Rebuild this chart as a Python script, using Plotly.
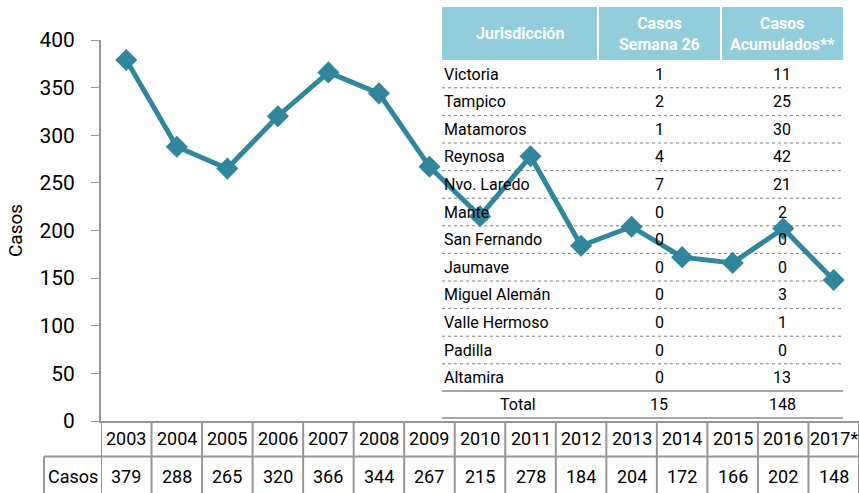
import plotly.graph_objects as go

# ---------------- data ----------------
years = ["2003", "2004", "2005", "2006", "2007", "2008", "2009", "2010",
         "2011", "2012", "2013", "2014", "2015", "2016", "2017*"]
cases = [379, 288, 265, 320, 366, 344, 267, 215, 278, 184, 204, 172, 166, 202, 148]

jurisdictions = ["Victoria", "Tampico", "Matamoros", "Reynosa", "Nvo. Laredo", "Mante",
                 "San Fernando", "Jaumave", "Miguel Alemán", "Valle Hermoso", "Padilla",
                 "Altamira"]
week26 = [1, 2, 1, 4, 7, 0, 0, 0, 0, 0, 0, 0]
accumulated = [11, 25, 30, 42, 21, 2, 0, 0, 3, 1, 0, 13]
header = ["Jurisdicción", "Casos<br>Semana 26", "Casos<br>Acumulados**"]
y_ticks = [0, 50, 100, 150, 200, 250, 300, 350, 400]

# ---------------- layout helpers ----------------
W, H = 859, 493
L, T, PB = 101, 40, 421          # plot left, top, bottom (px)
FONT = "Roboto, sans-serif"
LINE_C = "#31859C"
HEAD_C = "#92CDDC"
GRID_C = "#969696"


def px(x):
    return (x - L) / (W - L)


def py(y):
    return (PB - y) / (PB - T)


fig = go.Figure()
fig.add_trace(go.Scatter(
    x=years, y=cases, mode="lines+markers",
    line=dict(color=LINE_C, width=5),
    marker=dict(symbol="diamond", size=17, color=LINE_C),
    cliponaxis=False, showlegend=False, hoverinfo="x+y"))

shapes = []
annotations = []
TXT = dict(family=FONT, size=16, color="black")

# ---- overlay table: header ----
head_cols = [(442, 597), (599, 720), (722, 843)]
for (x0, x1), txt in zip(head_cols, header):
    shapes.append(dict(type="rect", xref="paper", yref="paper",
                       x0=px(x0), x1=px(x1), y0=py(60), y1=py(7),
                       fillcolor=HEAD_C, line=dict(width=0), layer="below"))
    annotations.append(dict(xref="paper", yref="paper", x=px((x0 + x1) / 2), y=py(33.5),
                            text="<b>" + txt + "</b>", showarrow=False,
                            font=dict(family=FONT, size=16, color="white"),
                            xanchor="center", yanchor="middle"))

# ---- overlay table: rows ----
ROW0, PITCH = 74, 27.6
for i, (name, w, a) in enumerate(zip(jurisdictions, week26, accumulated)):
    yc = ROW0 + PITCH * i
    annotations.append(dict(xref="paper", yref="paper", x=px(442), y=py(yc), text=name,
                            showarrow=False, xanchor="left", yanchor="middle", font=TXT))
    annotations.append(dict(xref="paper", yref="paper", x=px(659), y=py(yc), text=str(w),
                            showarrow=False, xanchor="center", yanchor="middle", font=TXT))
    annotations.append(dict(xref="paper", yref="paper", x=px(782), y=py(yc), text=str(a),
                            showarrow=False, xanchor="center", yanchor="middle", font=TXT))
    if i < len(jurisdictions) - 1:
        ys = yc + PITCH / 2
        shapes.append(dict(type="line", xref="paper", yref="paper",
                           x0=px(442), x1=px(843), y0=py(ys), y1=py(ys),
                           line=dict(color="#7F7F7F", width=1, dash="dot"), layer="below"))

# total row
yt = ROW0 + PITCH * len(jurisdictions) - 1
for xx, txt in [(518, "Total"), (659, str(sum(week26))), (782, str(sum(accumulated)))]:
    annotations.append(dict(xref="paper", yref="paper", x=px(xx), y=py(yt), text=txt,
                            showarrow=False, xanchor="center", yanchor="middle", font=TXT))
for ys in (391, 418):
    shapes.append(dict(type="line", xref="paper", yref="paper",
                       x0=px(442), x1=px(843), y0=py(ys), y1=py(ys),
                       line=dict(color="#A6A6A6", width=2), layer="below"))

# ---- bottom data table ----
for i in range(len(years) + 1):
    shapes.append(dict(type="line", xref="x", yref="paper", x0=i - 0.5, x1=i - 0.5,
                       y0=py(PB), y1=py(H), line=dict(color=GRID_C, width=2)))
shapes.append(dict(type="line", xref="paper", yref="paper", x0=px(44), x1=1,
                   y0=py(456.5), y1=py(456.5), line=dict(color=GRID_C, width=2)))
shapes.append(dict(type="line", xref="paper", yref="paper", x0=px(44), x1=px(44),
                   y0=py(456.5), y1=py(H), line=dict(color=GRID_C, width=2)))
CELL = dict(family=FONT, size=18, color="black")
for i, (yr, c) in enumerate(zip(years, cases)):
    annotations.append(dict(xref="x", yref="paper", x=i, y=py(439), text=yr,
                            showarrow=False, xanchor="center", yanchor="middle", font=CELL))
    annotations.append(dict(xref="x", yref="paper", x=i, y=py(476), text=str(c),
                            showarrow=False, xanchor="center", yanchor="middle", font=CELL))
annotations.append(dict(xref="paper", yref="paper", x=px(72.5), y=py(476), text="Casos",
                        showarrow=False, xanchor="center", yanchor="middle", font=CELL))

fig.update_layout(
    width=W, height=H,
    margin=dict(l=L, r=W - 859, t=T, b=H - PB, pad=0),
    paper_bgcolor="white", plot_bgcolor="white",
    font=dict(family=FONT, color="black"),
    shapes=shapes, annotations=annotations,
    xaxis=dict(type="category", range=[-0.5, len(years) - 0.5], showticklabels=False,
               showgrid=False, zeroline=False, showline=True, linecolor=GRID_C,
               linewidth=2, ticks=""),
    yaxis=dict(range=[0, 400], tickvals=y_ticks, showgrid=False, zeroline=False,
               showline=True, linecolor=GRID_C, linewidth=2, ticks="outside",
               ticklen=8, tickcolor=GRID_C, tickwidth=1, ticklabelstandoff=12,
               tickfont=dict(family=FONT, size=21, color="black"),
               title=dict(text="Casos", font=dict(family=FONT, size=19, color="black"),
                          standoff=12)),
)

fig.write_html("out.html", config={"displayModeBar": False},
               post_script="document.body.style.margin='0px';"
                           "document.body.style.padding='0px';"
                           "document.body.style.overflow='hidden';")
